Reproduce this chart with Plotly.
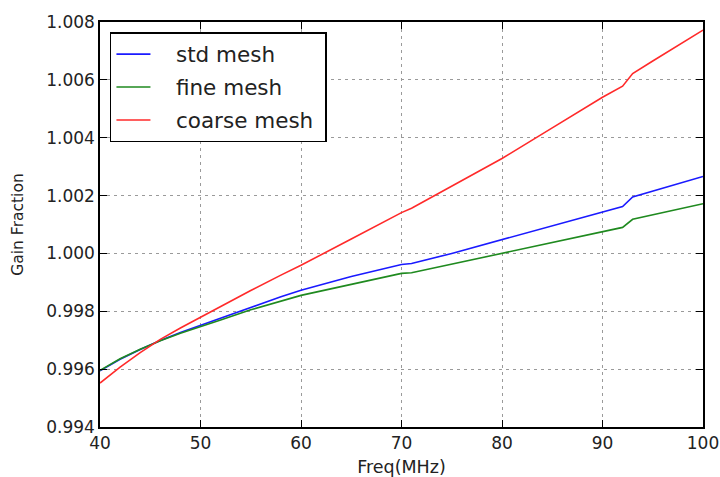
import plotly.graph_objects as go

freq = [40, 42, 44, 46, 48, 50, 52, 55, 58, 60, 65, 70, 71, 75, 80, 85, 90, 92, 93, 95, 100]

std_mesh = [0.99594, 0.99634, 0.99668, 0.99699, 0.99727, 0.99752, 0.99775, 0.99812, 0.99850, 0.99873,
            0.99920, 0.99962, 0.99965, 1.00000, 1.00048, 1.00096, 1.00143, 1.00162, 1.00195, 1.00215, 1.00266]
fine_mesh = [0.99596, 0.99636, 0.99669, 0.99698, 0.99724, 0.99748, 0.99770, 0.99805, 0.99835, 0.99855,
             0.99893, 0.99931, 0.99933, 0.99963, 1.00000, 1.00038, 1.00076, 1.00090, 1.00118, 1.00133, 1.00172]
coarse_mesh = [0.99552, 0.99607, 0.99657, 0.99703, 0.99742, 0.99779, 0.99817, 0.99872, 0.99925, 0.99959,
               1.00050, 1.00141, 1.00156, 1.00232, 1.00328, 1.00434, 1.00540, 1.00578, 1.00622, 1.00665, 1.00772]

series_names = ["std mesh", "fine mesh", "coarse mesh"]
series_colors = ["#1a1aff", "#1f8a1f", "#ff2a2a"]
x_ticks = [40, 50, 60, 70, 80, 90, 100]
y_ticks = [0.994, 0.996, 0.998, 1.000, 1.002, 1.004, 1.006, 1.008]
y_tick_text = ["0.994", "0.996", "0.998", "1.000", "1.002", "1.004", "1.006", "1.008"]

fig = go.Figure()
for name, ys, col in zip(series_names, [std_mesh, fine_mesh, coarse_mesh], series_colors):
    fig.add_trace(go.Scatter(x=freq, y=ys, mode="lines", name="\u00a0\u00a0\u00a0" + name + "\u00a0",
                             legendgroup=name, line=dict(color=col, width=1.6)))

font_family = "DejaVu Sans"
fig.update_layout(
    width=720, height=477,
    margin=dict(l=100, r=17, t=22, b=50, autoexpand=False),
    paper_bgcolor="white", plot_bgcolor="white",
    font=dict(family=font_family, color="#222222"),
    showlegend=True,
    legend=dict(x=0.0165, y=0.975, xanchor="left", yanchor="top",
                bgcolor="white", bordercolor="black", borderwidth=1.5,
                font=dict(size=21.5, family=font_family, color="#222222"),
                tracegroupgap=2, itemwidth=34),
)
fig.update_xaxes(range=[40, 100], tickvals=x_ticks, ticks="inside", ticklen=7, tickcolor="black",
                 showline=True, linecolor="black", linewidth=1.5, mirror="allticks",
                 showgrid=True, gridcolor="#9a9a9a", griddash="3px,4px", gridwidth=1,
                 zeroline=False, tickfont=dict(size=17), ticklabeloverflow="allow",
                 title=dict(text="Freq(MHz)", font=dict(size=17.5), standoff=12))
fig.update_yaxes(range=[0.994, 1.008], tickvals=y_ticks, ticktext=y_tick_text, ticks="inside", ticklen=7,
                 tickcolor="black", showline=True, linecolor="black", linewidth=1.5, mirror="allticks",
                 showgrid=True, gridcolor="#9a9a9a", griddash="3px,4px", gridwidth=1,
                 zeroline=False, tickfont=dict(size=17), ticklabeloverflow="allow",
                 title=dict(text="Gain Fraction", font=dict(size=15.5), standoff=19))

fig.write_html("out.html")
